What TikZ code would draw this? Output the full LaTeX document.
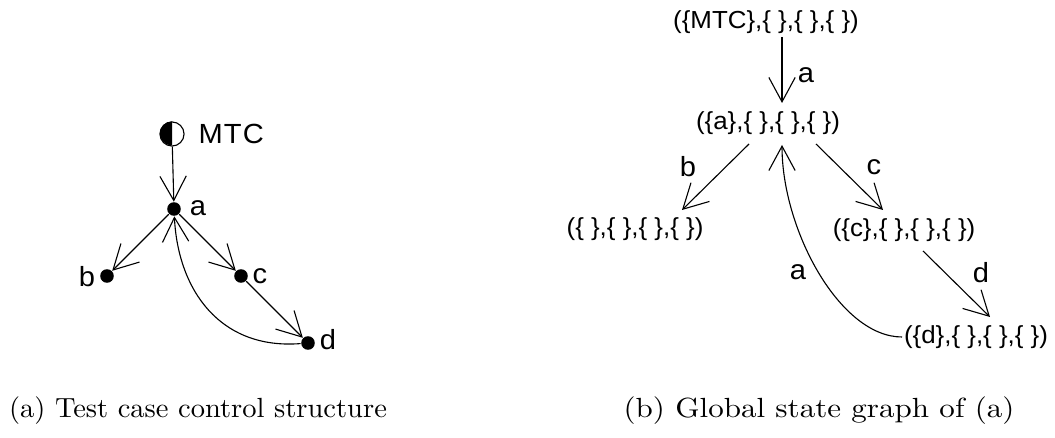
\documentclass[tikz,border=0pt]{standalone}
\usepackage{fontspec}
\newfontfamily\gsans[FakeStretch=1.05]{Liberation Sans}
\usetikzlibrary{arrows.meta,calc}
\begin{document}
\begin{tikzpicture}[x=0.361pt,y=-0.361pt,
  arr/.style={-{Straight Barb[length=8.8pt,width=9.5pt]}, line width=0.4pt},
  dot/.style={circle,fill,inner sep=0pt,minimum size=4.9pt},
  st/.style={font=\gsans\fontsize{8.9}{10}\selectfont, inner sep=0pt},
  lbl/.style={font=\gsans\fontsize{10}{12}\selectfont, inner sep=0pt},
  captxt/.style={font=\fontsize{10}{12}\selectfont, inner sep=0pt}]
\useasboundingbox (0,0) rectangle (1055,438);
% ---- left graph
\node[circle,draw,line width=0.4pt,inner sep=0pt,minimum size=8.7pt] (mtc) at (172,134) {};
\fill (mtc.north) arc[start angle=90,end angle=270,radius=4.35pt] -- cycle;
\node[lbl,anchor=west] (mtcl) at (198,134) {\addfontfeature{LetterSpace=4}MTC};
\node[dot] (a) at (174,209) {};
\node[dot] (b) at (107,276) {};
\node[dot] (c) at (241,276) {};
\node[dot] (d) at (308,343) {};
\node[lbl] (al) at (198,208) {a};
\node[lbl] (bl) at (87,277) {b};
\node[lbl] (cl) at (260,276) {c};
\node[lbl] (dl) at (328,340) {d};
\draw[arr] (mtc) -- (a);
\draw[arr] (a) -- (b);
\draw[arr] (a) -- (c);
\draw[arr] (c) -- (d);
\draw[arr] (d) .. controls (220,350) and (178,290) .. (a);
% ---- right graph
\node[st] (m0) at (766,22) {(\{MTC\},\{ \},\{ \},\{ \})};
\node[st] (m1) at (768,123) {(\{a\},\{ \},\{ \},\{ \})};
\node[st] (m2) at (635,229) {(\{ \},\{ \},\{ \},\{ \})};
\node[st] (m3) at (904,230) {(\{c\},\{ \},\{ \},\{ \})};
\node[st] (m4) at (976,337) {(\{d\},\{ \},\{ \},\{ \})};
\draw[arr] ($(m0)+(16,15)$) -- ($(m1)+(14,-20)$);
\draw[arr] ($(m1)+(-19,21)$) -- ($(m2)+(47,-19)$);
\draw[arr] ($(m1)+(48,21)$) -- ($(m3)+(-21,-20)$);
\draw[arr] ($(m3)+(19,21)$) -- ($(m4)+(14,-20)$);
\draw[arr] ($(m4)+(-74,0)$) .. controls ($(m4)+(-136,0)$) and ($(m1)+(14,107)$) .. ($(m1)+(14,22)$);
\node[lbl] (l1) at (806,75) {a};
\node[lbl] (l2) at (688,167) {b};
\node[lbl] (l3) at (874,167) {c};
\node[lbl] (l4) at (981,273) {d};
\node[lbl] (l5) at (798,272) {a};
% ---- captions
\node[captxt] (ca) at (198,411) {\scalebox{1.03}[1]{(a) Test case control structure}};
\node[captxt] (cb) at (819,411) {\scalebox{1.12}[1]{(b) Global state graph of (a)}};
\end{tikzpicture}
\end{document}
